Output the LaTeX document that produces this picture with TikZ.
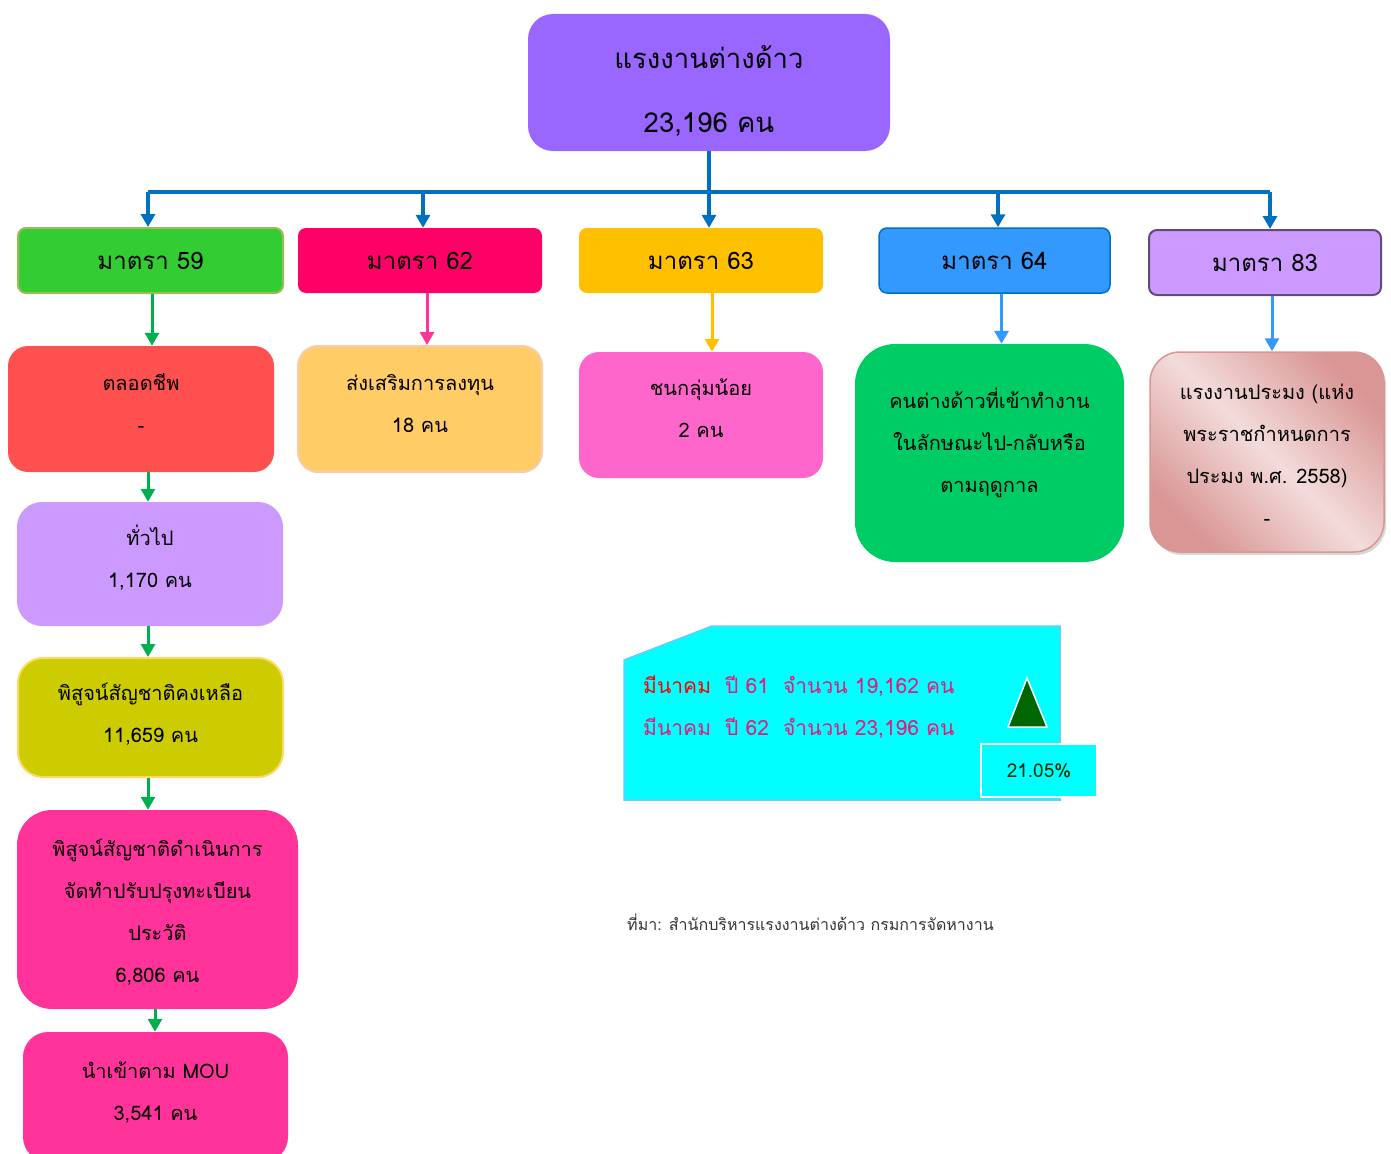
\documentclass[tikz,border=0pt]{standalone}
\usepackage{fontspec}
\setmainfont{Loma}[Script=Thai]
\usetikzlibrary{arrows.meta,shadows}
\definecolor{topfill}{HTML}{9966FF}
\definecolor{linkblue}{HTML}{0070C0}
\definecolor{mA}{HTML}{33CC33}
\definecolor{mAb}{HTML}{9BBB59}
\definecolor{mB}{HTML}{FF0066}
\definecolor{mC}{HTML}{FFC000}
\definecolor{mD}{HTML}{3399FF}
\definecolor{mE}{HTML}{CC99FF}
\definecolor{mEb}{HTML}{604A7B}
\definecolor{bA}{HTML}{FF5050}
\definecolor{bB}{HTML}{FFCC66}
\definecolor{bBb}{HTML}{F8CBAD}
\definecolor{bC}{HTML}{FF66CC}
\definecolor{bD}{HTML}{00CC66}
\definecolor{bEd}{HTML}{D99694}
\definecolor{bEl}{HTML}{F2DCDB}
\definecolor{gTwo}{HTML}{CCCC00}
\definecolor{gTwob}{HTML}{FFD966}
\definecolor{gPink}{HTML}{FF3399}
\definecolor{arGreen}{HTML}{00B050}
\definecolor{arPink}{HTML}{FF3399}
\definecolor{cyanfill}{HTML}{00FFFF}
\definecolor{cyanedge}{HTML}{66CCFF}
\definecolor{txtpink}{HTML}{E8197A}
\definecolor{txtred}{HTML}{FF0000}
\definecolor{triGreen}{HTML}{006600}
\definecolor{pctText}{HTML}{003300}
\definecolor{srcText}{HTML}{333333}
\begin{document}
\begin{tikzpicture}[x=1pt,y=-1pt,
  boxbase/.style={inner sep=0pt, align=center, text=black},
  mbox/.style={boxbase, rounded corners=8pt, minimum height=65pt, font=\fontsize{24}{30}\selectfont},
  bodybox/.style={boxbase, font=\fontsize{20}{42}\selectfont},
  tl/.style={text height=#1, text depth=6pt},
  bluelink/.style={linkblue, line width=3.5pt},
  bluearr/.style={bluelink, -{Triangle[width=14pt,length=13pt]}},
  colarr/.style={line width=3pt, -{Triangle[width=14pt,length=13pt]}},
]
\useasboundingbox (0,0) rectangle (1391,1153);

% top node
\node[boxbase, fill=topfill, rounded corners=25pt, minimum width=362pt, minimum height=137pt,
  font=\fontsize{27.5}{64}\selectfont, tl=106pt] (top) at (709,82.5) {แรงงานต่างด้าว\\23,196 คน};

% section nodes
\node[mbox, fill=mA, draw=mAb, line width=2pt, minimum width=265pt] (m59) at (150.5,260.5) {มาตรา 59};
\node[mbox, fill=mB, minimum width=244pt] (m62) at (420,260.5) {มาตรา 62};
\node[mbox, fill=mC, minimum width=244pt] (m63) at (701,260.5) {มาตรา 63};
\node[mbox, fill=mD, draw=linkblue, line width=1.5pt, minimum width=231pt] (m64) at (994.5,260.5) {มาตรา 64};
\node[mbox, fill=mE, draw=mEb, line width=2pt, minimum width=232pt] (m83) at (1265,262.5) {มาตรา 83};

% second row
\node[bodybox, tl=53pt, fill=bA, rounded corners=20pt, minimum width=266pt, minimum height=126pt] (b59) at (141,409) {ตลอดชีพ\\-};
\node[bodybox, tl=53pt, fill=bB, draw=bBb, line width=2pt, rounded corners=20pt, minimum width=244pt, minimum height=126pt] (b62) at (420,409) {ส่งเสริมการลงทุน\\18 คน};
\node[bodybox, tl=50pt, fill=bC, rounded corners=20pt, minimum width=244pt, minimum height=126pt] (b63) at (701,415) {ชนกลุ่มน้อย\\2 คน};
\node[bodybox, tl=84pt, fill=bD, rounded corners=40pt, minimum width=269pt, minimum height=218pt] (b64) at (989.5,453) {คนต่างด้าวที่เข้าทำงาน\\ในลักษณะไป-กลับหรือ\\ตามฤดูกาล};
\node[bodybox, tl=152pt, top color=bEd, bottom color=bEd, middle color=bEl, shading angle=-45,
  draw=bEd, line width=1.5pt, rounded corners=30pt, minimum width=234pt, minimum height=200pt,
  drop shadow={shadow xshift=2pt, shadow yshift=-3pt, fill=gray!60}] (b83) at (1267,452) {แรงงานประมง (แห่ง\\พระราชกำหนดการ\\ประมง พ.ศ. 2558)\\-};

% left column
\node[bodybox, tl=52pt, fill=mE, rounded corners=25pt, minimum width=266pt, minimum height=124pt] (g1) at (150,564) {ทั่วไป\\1,170 คน};
\node[bodybox, tl=56pt, fill=gTwo, draw=gTwob, line width=2pt, rounded corners=25pt, minimum width=265pt, minimum height=119pt] (g2) at (150.5,717.5) {พิสูจน์สัญชาติคงเหลือ\\11,659 คน};
\node[bodybox, tl=152pt, fill=gPink, rounded corners=35pt, minimum width=281pt, minimum height=199pt] (g3) at (157.5,909.5) {พิสูจน์สัญชาติดำเนินการ\\จัดทำปรับปรุงทะเบียน\\ประวัติ\\6,806 คน};
\node[bodybox, tl=52pt, fill=gPink, rounded corners=25pt, minimum width=265pt, minimum height=130pt] (g4) at (155.5,1097) {นำเข้าตาม MOU\\3,541 คน};

% top connectors
\coordinate (hl) at (148,192);
\coordinate (h62) at (423,192);
\coordinate (h64) at (998,192);
\coordinate (hr) at (1270,192);
\draw[bluelink] (hl) -- (hr);
\draw[bluearr] (top.south) -- (top.south |- m63.north);
\draw[bluearr] (hl) -- (hl |- m59.north);
\draw[bluearr] (h62) -- (h62 |- m62.north);
\draw[bluearr] (h64) -- (h64 |- m64.north);
\draw[bluearr] (hr) -- (hr |- m83.north);

% section to detail arrows
\draw[colarr, arGreen] ([xshift=1.5pt]m59.south) -- ([xshift=1.5pt]m59.south |- b59.north);
\draw[colarr, arPink] ([xshift=7pt]m62.south) -- ([xshift=7pt]b62.north);
\draw[colarr, mC] ([xshift=11pt,yshift=2pt]m63.south) -- ([xshift=11pt]b63.north);
\draw[colarr, mD] ([xshift=7pt]m64.south) -- ([xshift=7pt]m64.south |- b64.north);
\draw[colarr, mD] ([xshift=7pt]m83.south) -- ([xshift=5pt]b83.north);

% left column arrows
\draw[colarr, arGreen] ([xshift=-2pt]g1.north |- b59.south) -- ([xshift=-2pt]g1.north);
\draw[colarr, arGreen] ([xshift=-2pt]g1.south) -- ([xshift=-2pt]g1.south |- g2.north);
\draw[colarr, arGreen] ([xshift=-2.5pt]g2.south) -- ([xshift=-2.5pt]g2.south |- g3.north);
\draw[colarr, arGreen] ([xshift=-0.5pt]g4.north |- g3.south) -- ([xshift=-0.5pt]g4.north);

% cyan comparison panel
\draw[fill=cyanfill, draw=cyanedge, line width=1.5pt] (624,660) -- (712,626) -- (1060,626) -- (1060,800) -- (624,800) -- cycle;
\node[anchor=west, inner sep=0pt, font=\fontsize{21}{26}\selectfont, text=txtpink] (l1) at (643,686) {\textcolor{txtred}{มีนาคม}\ \ ปี 61\ \ จำนวน 19,162 คน};
\node[anchor=west, inner sep=0pt, font=\fontsize{21}{26}\selectfont, text=txtpink] (l2) at (643,728) {มีนาคม\ \ ปี 62\ \ จำนวน 23,196 คน};
\draw[fill=triGreen, draw=white, line width=1.5pt] (1027,678) -- (1047,727) -- (1008,727) -- cycle;
\node[boxbase, fill=cyanfill, draw=white, line width=2pt, minimum width=116pt, minimum height=53pt,
  font=\fontsize{19}{24}\selectfont, text=pctText] (pct) at (1039,770.5) {21.05\%};

% source
\node[anchor=west, inner sep=0pt, font=\fontsize{16}{20}\selectfont, text=srcText] (src) at (627,922) {ที่มา: สำนักบริหารแรงงานต่างด้าว กรมการจัดหางาน};
\end{tikzpicture}
\end{document}
